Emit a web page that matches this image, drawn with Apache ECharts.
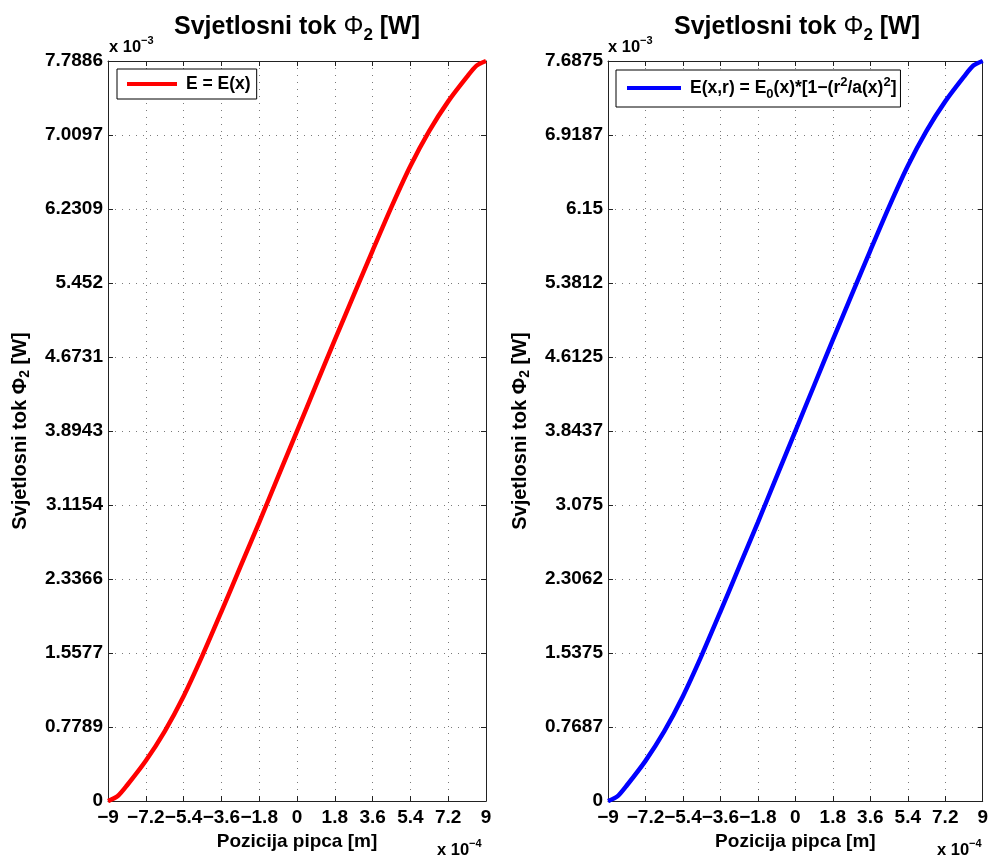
<!DOCTYPE html>
<html><head><meta charset="utf-8">
<script src="https://cdn.jsdelivr.net/npm/echarts@6/dist/echarts.min.js"></script>
<style>html,body{margin:0;padding:0;background:#fff}#c{width:991px;height:856px}</style>
</head><body><div id="c"></div>
<script>
// x positions in units of 1e-4 m
const xValues = [-9, -8.55, -8.1, -7.2, -6.3, -5.4, -4.5, -3.6, -2.7, -1.8, -0.9, 0, 0.9, 1.8, 2.7, 3.6, 4.5, 5.4, 6.3, 7.2, 8.1, 8.55, 9];
// luminous flux in units of 1e-3 W
const fluxLeft = [0, 0.05, 0.164, 0.424, 0.734, 1.104, 1.534, 1.994, 2.464, 2.934, 3.414, 3.894, 4.374, 4.854, 5.324, 5.794, 6.254, 6.684, 7.054, 7.364, 7.624, 7.74, 7.7886];
const fluxRight = [0, 0.049, 0.162, 0.418, 0.724, 1.090, 1.514, 1.968, 2.432, 2.896, 3.370, 3.844, 4.317, 4.791, 5.255, 5.719, 6.173, 6.597, 6.962, 7.268, 7.525, 7.640, 7.6875];
const xTickLabels = ['\u22129', '\u22127.2', '\u22125.4', '\u22123.6', '\u22121.8', '0', '1.8', '3.6', '5.4', '7.2', '9'];
const yTickLabelsLeft = ['0', '0.7789', '1.5577', '2.3366', '3.1154', '3.8943', '4.6731', '5.452', '6.2309', '7.0097', '7.7886'];
const yTickLabelsRight = ['0', '0.7687', '1.5375', '2.3062', '3.075', '3.8437', '4.6125', '5.3812', '6.15', '6.9187', '7.6875'];
const yMaxLeft = 7.7886, yMaxRight = 7.6875;
const seriesNames = ['E = E(x)', 'E(x,r) = E0(x)*[1-(r2/a(x)2]'];

const FONT = '"Liberation Sans", Arial, Helvetica, sans-serif';
const chart = echarts.init(document.getElementById('c'), null, {renderer: 'canvas'});

const grids = [
  {left: 108, top: 61, width: 378, height: 741},
  {left: 608, top: 61, width: 377, height: 741}
];
const gridLine = {show: true, lineStyle: {color: '#7a7a7a', type: [1, 6], width: 1}};
const axisLine = {show: true, onZero: false, lineStyle: {color: '#222', width: 1}};
const tickStyle = {show: true, inside: true, length: 5, lineStyle: {color: '#222'}};
const labelStyle = {fontFamily: FONT, fontWeight: 'bold', fontSize: 19, color: '#000'};

const xAxes = [], yAxes = [];
[0, 1].forEach(g => {
  const ymax = g === 0 ? yMaxLeft : yMaxRight;
  const ylabels = g === 0 ? yTickLabelsLeft : yTickLabelsRight;
  xAxes.push({
    type: 'value', gridIndex: g, min: -9, max: 9, interval: 1.8, position: 'bottom',
    axisLine, axisTick: tickStyle, splitLine: gridLine,
    axisLabel: Object.assign({margin: 7, formatter: v => xTickLabels[Math.round((v + 9) / 1.8)]}, labelStyle),
    name: 'Pozicija pipca [m]', nameLocation: 'middle', nameGap: 29,
    nameTextStyle: {fontFamily: FONT, fontWeight: 'bold', fontSize: 19, color: '#000'}
  });
  xAxes.push({
    type: 'value', gridIndex: g, min: -9, max: 9, interval: 1.8, position: 'top',
    axisLine, axisTick: tickStyle, splitLine: {show: false}, axisLabel: {show: false}
  });
  yAxes.push({
    type: 'value', gridIndex: g, min: 0, max: ymax, interval: ymax / 10, position: 'left',
    axisLine, axisTick: tickStyle, splitLine: gridLine,
    axisLabel: Object.assign({margin: 5, formatter: v => ylabels[Math.round(v / (ymax / 10))]}, labelStyle),
    name: '{a|Svjetlosni tok \u03A6}{s|2}{a| [W]}', nameLocation: 'middle', nameGap: 76, nameRotate: 90,
    nameTextStyle: {rich: {
      a: {fontFamily: FONT, fontWeight: 'bold', fontSize: 20, color: '#000'},
      s: {fontFamily: FONT, fontWeight: 'bold', fontSize: 14, color: '#000', padding: [10, 0, 0, 0]}
    }}
  });
  yAxes.push({
    type: 'value', gridIndex: g, min: 0, max: ymax, interval: ymax / 10, position: 'right',
    axisLine, axisTick: tickStyle, splitLine: {show: false}, axisLabel: {show: false}
  });
});

const richLegend = {
  a: {fontFamily: FONT, fontWeight: 'bold', fontSize: 17.5, color: '#000'},
  f: {fontFamily: FONT, fontWeight: 'bold', fontSize: 17.5, color: '#000', padding: [0, 0, 0, 4]},
  sub: {fontFamily: FONT, fontWeight: 'bold', fontSize: 13, color: '#000', padding: [13, 0, 0, 0]},
  sup: {fontFamily: FONT, fontWeight: 'bold', fontSize: 13, color: '#000', padding: [0, 0, 11, 0]}
};

const titleRich = {
  a: {fontFamily: FONT, fontWeight: 'bold', fontSize: 25, color: '#000'},
  p: {fontFamily: FONT, fontSize: 25, color: '#000'},
  s: {fontFamily: FONT, fontWeight: 'bold', fontSize: 17, color: '#000', padding: [16, 0, 0, 0]}
};
const expRich = {
  a: {fontFamily: FONT, fontWeight: 'bold', fontSize: 16.5, color: '#000'},
  e: {fontFamily: FONT, fontWeight: 'bold', fontSize: 11, color: '#000', padding: [0, 0, 13, 0]}
};
function txt(x, y, text, rich, align) {
  return {type: 'text', x, y, style: {text, rich, align: align || 'left', verticalAlign: 'middle'}};
}

const option = {
  backgroundColor: '#fff',
  animation: false,
  grid: grids,
  xAxis: xAxes,
  yAxis: yAxes,
  legend: [
    {data: [seriesNames[0]], left: 117, top: 69, orient: 'vertical', icon: 'rect', itemWidth: 50, itemHeight: 4,
     borderColor: '#000', borderWidth: 1, borderRadius: 0, backgroundColor: '#fff', padding: [6, 6, 6, 10],
     textStyle: {rich: richLegend}, formatter: () => '{f|E = E(x)}'},
    {data: [seriesNames[1]], left: 616, top: 70, orient: 'vertical', icon: 'rect', itemWidth: 54, itemHeight: 4,
     borderColor: '#000', borderWidth: 1, borderRadius: 0, backgroundColor: '#fff', padding: [6, 4, 6, 11],
     textStyle: {rich: richLegend},
     formatter: () => '{f|E(x,r) = E}{sub|0}{a|(x)*[1\u2212(r}{sup|2}{a|/a(x)}{sup|2}{a|]}'}
  ],
  series: [
    {name: seriesNames[0], type: 'line', xAxisIndex: 0, yAxisIndex: 0, smooth: 0.25,
     showSymbol: false, lineStyle: {color: '#ff0000', width: 4.5}, itemStyle: {color: '#ff0000'},
     data: xValues.map((x, i) => [x, fluxLeft[i]])},
    {name: seriesNames[1], type: 'line', xAxisIndex: 2, yAxisIndex: 2, smooth: 0.25,
     showSymbol: false, lineStyle: {color: '#0000ff', width: 4.5}, itemStyle: {color: '#0000ff'},
     data: xValues.map((x, i) => [x, fluxRight[i]])}
  ],
  graphic: [
    txt(297, 27, '{a|Svjetlosni tok }{p|\u03A6}{s|2}{a| [W]}', titleRich, 'center'),
    txt(797, 27, '{a|Svjetlosni tok }{p|\u03A6}{s|2}{a| [W]}', titleRich, 'center'),
    txt(109, 47, '{a|x 10}{e|\u22123}', expRich),
    txt(608, 47, '{a|x 10}{e|\u22123}', expRich),
    txt(437, 850, '{a|x 10}{e|\u22124}', expRich),
    txt(937, 850, '{a|x 10}{e|\u22124}', expRich)
  ]
};
chart.setOption(option);
</script>
</body></html>
